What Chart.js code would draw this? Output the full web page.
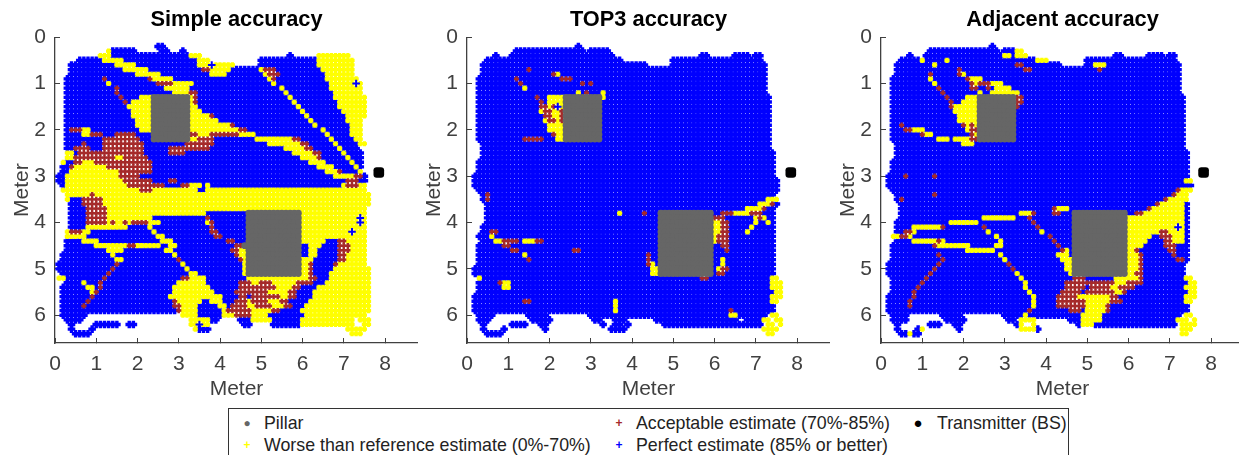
<!DOCTYPE html>
<html>
<head>
<meta charset="utf-8">
<style>
  html, body { margin: 0; padding: 0; background: #fff; overflow: hidden; width: 1239px; height: 455px; }
  canvas { position: absolute; top: 0; }
  #legend { position: absolute; left: 228px; top: 408px; width: 839px; height: 60px; border: 1px solid #333; font: 17.8px "Liberation Sans", sans-serif; color: #222; }
  #legend span { position: absolute; white-space: nowrap; line-height: 20px; }
  #legend .mark { font-weight: bold; font-size: 12px; text-align: center; width: 14px; }
</style>
</head>
<body>
<canvas id="c1" width="418" height="402" style="left:0"></canvas>
<canvas id="c2" width="418" height="402" style="left:412px"></canvas>
<canvas id="c3" width="418" height="402" style="left:826px"></canvas>
<div id="legend">
  <span class="mark" style="left:11px;top:4px;color:#666">&#9679;</span><span style="left:35px;top:4px">Pillar</span>
  <span class="mark" style="left:11px;top:26px;color:#ff0">+</span><span style="left:35px;top:26px">Worse than reference estimate (0%-70%)</span>
  <span class="mark" style="left:383px;top:4px;color:#a52a2a">+</span><span style="left:407px;top:4px">Acceptable estimate (70%-85%)</span>
  <span class="mark" style="left:383px;top:26px;color:#00f">+</span><span style="left:407px;top:26px">Perfect estimate (85% or better)</span>
  <span class="mark" style="left:682px;top:4px;color:#000;font-size:15px">&#9679;</span><span style="left:708px;top:4px">Transmitter (BS)</span>
</div>
<script src="https://cdn.jsdelivr.net/npm/chart.js@4"></script>
<script>
// rows: first number is y in tenths of a meter, then runs "class + end x in tenths"
// b perfect, y worse, r acceptable, g pillar, B perfect on top, _ nothing measured
const simpleRows = [
  '2 _25 b27',
  '3 _13 y14 b20 _26 b28 _31 b32',
  '4 _11 y14 b33 y36 _57 b58 _64 y72',
  '5 _6 b12 y17 b35 y38 _50 b64 y73',
  '6 _4 b15 y20 b35 y38 B39 y44 _50 b64 y73',
  '7 _4 b17 y23 b36 r38 y43 b50 y51 r54 b65 y73',
  '8 _4 b20 y26 b38 y42 b51 y52 r55 b66 y73',
  '9 _3 b12 r13 b23 r24 y29 b52 y53 r54 b66 y74',
  '10 _3 b13 y14 b25 r29 y34 b53 y54 b67 y73 B74 y75',
  '11 _3 b15 r16 b27 y33 b55 y56 b67 y75',
  '12 _3 b15 r16 b29 y33 r35 b56 y57 b68 y75',
  '13 _3 b16 r17 b21 y24 g33 y34 r35 b57 y58 b68 y76',
  '14 _3 b17 r18 b19 y24 g33 y34 r35 b58 y59 b69 y76',
  '15 _3 b18 y24 g33 y35 b59 y60 b69 y76',
  '16 _3 b19 y24 g33 y36 b60 y61 b70 y76',
  '17 _3 b19 y24 g33 y38 r39 b61 y62 b71 y76',
  '18 _3 b20 y24 g33 y40 b62 y63 b71 y75',
  '19 _3 b20 y24 g33 y43 r44 b63 y64 b72 y75',
  '20 _3 b4 r7 y9 b21 y24 g33 y45 r47 b65 y66 b72 y75',
  '21 _3 b7 y9 r12 b15 r20 b24 g33 r35 y38 r45 y49 b66 y67 b72 y75',
  '22 _3 b12 r21 b24 g33 y35 r39 b49 y58 r60 b67 y68 b73 y75',
  '23 _3 b7 r8 b12 r22 b32 r39 b52 y60 r62 b68 y69 b74 y76',
  '24 _3 b5 r9 b12 r22 b28 r38 b56 y61 r63 b69 y70 b74',
  '25 _3 y5 b6 r22 b28 r32 b58 y63 r65 b70 y71 b75',
  '26 _3 y5 r15 y17 r23 b60 y64 r65 b71 y72 b75',
  '27 _2 y3 b5 r7 y10 r24 b62 y66 b72 y73 b75',
  '28 _2 b4 r5 y13 r24 b64 y68 b73 y74 b75',
  '29 _2 b4 y16 r24 b66 y69 r70 b74 y75',
  '30 _1 b3 y16 r21 b68 y73 r75 b76',
  '31 _1 b3 y17 r24 b28 r30 b71 r74 b76',
  '32 _2 b3 y18 r27 b31 r33 y36 b37 y38 b70 y71 r74 y76',
  '33 _2 y21 r24 y35 b37 y76',
  '34 _3 y9 r10 y77',
  '35 _3 y4 b7 r12 y77',
  '36 _4 b7 r12 y77',
  '37 _4 b8 r13 y76',
  '38 _4 b8 r13 y37 b47 g60 y76',
  '39 _4 b8 r13 y24 b37 r38 b47 g60 y74 B75 y76',
  '40 _4 b8 r13 y14 r15 y17 r18 y19 r23 y26 b37 y38 r39 b47 g60 y74 B75 y76',
  '41 _4 b8 y18 b23 y24 b38 r39 b47 g60 y76',
  '42 _3 y4 r7 y9 b24 y25 b38 r40 b46 B47 g60 y72 B73 y76',
  '43 _3 y8 b25 y27 b39 r41 b47 g60 y76',
  '44 _3 b7 y11 b26 y29 b42 r44 b47 g60 y66 b69 r71 y76',
  '45 _3 b10 y18 r20 y26 b28 y30 b44 r46 g60 b62 y65 b69 r72 y76',
  '46 _3 b13 y17 b27 y29 b43 r45 y47 g60 b62 y64 b69 r72 y76',
  '47 _2 b14 y15 b29 y30 b44 r45 y47 g60 b62 y64 b69 r71 y76',
  '48 _2 b15 y17 b30 r31 b45 r46 y47 g60 y63 b69 r71 y76',
  '49 _1 b15 r16 b31 y32 b46 y47 g60 y62 r63 b68 r69 y76',
  '50 _1 b14 r15 b32 y33 b46 y47 g60 y62 r63 b68 y77',
  '51 _2 b13 r14 b33 y35 b46 y47 g60 y62 r63 b67 y77',
  '52 _1 y3 b12 r13 b31 r33 y37 b47 y62 r64 b67 y77',
  '53 _3 b7 y8 b11 r12 b30 y37 b45 r48 y50 r53 y59 r63 b66 y77',
  '54 _2 b8 y10 b11 r12 b29 y38 b45 r54 y58 r60 b64 y77',
  '55 _2 b9 y10 r11 b29 y39 b44 r52 y57 r59 b63 y77',
  '56 _2 b9 r10 b28 y41 b45 r47 b48 r55 y57 r59 b63 y77',
  '57 _2 b8 r9 b29 r30 y36 b38 y41 b44 r47 y48 r52 y55 r57 b62 y77',
  '58 _2 b7 r8 b29 r31 y35 b40 y42 b43 r47 y49 r53 y56 r58 b61 y77',
  '59 _2 b30 r31 y35 b41 y42 r48 y53 r55 b60 y77',
  '60 _2 b8 _31 y35 b41 y44 r48 y52 b61 y76',
  '61 _3 b7 _33 y38 b40 _45 b48 y53 b60 y73 _74 y77',
  '62 _4 b5 _10 b16 _18 b20 _33 y35 B36 y38 _46 b48 _53 b60 y73 _75 y77',
  '63 _4 b5 _9 b10 _34 y35 b38 _71 y76',
  '64 _5 b9 _72 y75'
];

const top3Rows = [
  '2 _27 b28',
  '3 _12 b29 _30 b35',
  '4 _7 b8 _11 b36 _57 b59 _65 b69 _70 b72',
  '5 _5 b38 _50 b72',
  '6 _4 b44 _50 b73',
  '7 _4 b15 r16 b73',
  '8 _4 b21 r22 y23 b73',
  '9 _3 b12 r13 b23 r26 b73',
  '10 _3 b13 r14 b28 r29 b30 r31 b73',
  '11 _3 b14 y15 b73',
  '12 _3 b16 b27 y28 b29 r30 b33 y34 b73',
  '13 _3 b17 r18 b20 y24 g33 y34 b74',
  '14 _3 b18 r19 b20 y24 g33 b74',
  '15 _3 b18 r20 y21 r22 B23 y24 g33 b74',
  '16 _3 b18 y19 r21 y23 r24 g33 b74',
  '17 _3 b19 r21 y23 r24 g33 b74',
  '18 _3 b19 y20 r22 y23 r24 g33 b74',
  '19 _3 b20 y24 g33 b74',
  '20 _3 b20 y24 g33 b74',
  '21 _3 b21 r22 y24 g33 b74',
  '22 _3 b14 r19 b22 y24 g33 b74',
  '23 _4 b74',
  '24 _4 b74',
  '25 _4 b75',
  '26 _4 b75',
  '27 _3 b75',
  '28 _3 b75',
  '29 _3 b75',
  '30 _2 b75',
  '31 _2 b76',
  '32 _2 b76',
  '33 _3 b76',
  '34 _4 b5 r6 b75',
  '35 _4 b5 r6 b73 y76',
  '36 _5 b71 y74 r75 b76',
  '37 _5 b68 y72 r73 b75',
  '38 _5 b37 y38 b43 r44 b47 g60 b62 r65 y69 r72 b75',
  '39 _5 b47 g60 r63 b70 y71 r72 y73 b75',
  '40 _5 b47 g60 y62 r64 b70 y71 b73 y74 b75',
  '41 _4 b47 g60 y62 r64 b69 y70 b75',
  '42 _4 b6 r8 b47 g60 y62 r64 b68 y69 b75',
  '43 _3 b6 y7 b47 g60 y61 r64 b75',
  '44 _4 b7 y9 r13 b14 y17 r19 b47 g60 y61 r64 b75',
  '45 _3 b9 r11 b47 g60 b62 r64 b75',
  '46 _3 b11 r13 b26 r28 b47 g60 b63 r64 b75',
  '47 _3 b14 y15 b44 r45 b47 g60 b75',
  '48 _3 b15 r16 b44 r45 b47 g60 b62 y63 b75',
  '49 _3 b44 r45 y46 b47 g60 b62 y63 b75',
  '50 _2 b45 y47 g60 b61 y62 r64 b75',
  '51 _2 b45 y47 g60 b61 r63 b75',
  '52 _3 y4 b57 r59 b74 y76',
  '53 _3 b8 r9 y11 b74 y77',
  '54 _3 b9 y11 b74 y77',
  '55 _3 b75 y77',
  '56 _2 b74 y77',
  '57 _2 b14 r16 b36 y37 b74 y76',
  '58 _2 b36 y37 b75',
  '59 _2 b36 y37 b64 r65 b75',
  '60 _3 b7 _15 b20 _30 b64 y66 b73 _74 y76',
  '61 _3 b6 _16 b21 _31 b33 _36 b39 _46 b66 _68 b72 y74 _75 y77',
  '62 _4 b5 _11 b15 _18 b20 _33 b34 _36 b38 _39 b40 _48 b72 _73 y75 _76 y77',
  '63 _4 b5 _9 b10 _19 b20 _35 b39 _72 y76',
  '64 _5 b9 _73 y75'
];

const adjacentRows = [
  '2 _27 b28',
  '3 _12 b29 _30 b33 y35',
  '4 _7 b8 _11 b30 y32 b33 y36 _57 b59 _65 b69 _70 b72',
  '5 _5 b10 y11 b16 y17 b38 y41 _50 b72',
  '6 _4 b13 y14 b33 r35 b44 _50 b52 y55 b73',
  '7 _4 b19 r20 b35 r37 b53 r54 b73',
  '8 _4 b12 r13 b19 r20 y21 b73',
  '9 _3 b12 y13 b21 r22 y25 b73',
  '10 _3 b13 y14 b22 r23 y24 r27 y30 b73',
  '11 _3 b14 r15 b22 r24 b26 r27 b28 y32 b73',
  '12 _3 b15 r16 b24 y25 b27 y34 b73',
  '13 _3 b16 r17 b21 y24 g33 r35 b74',
  '14 _3 b17 r18 b20 y24 g33 r35 b74',
  '15 _3 b17 r18 y24 g33 r34 b74',
  '16 _3 b18 y24 g33 b74',
  '17 _3 b19 y24 g33 b74',
  '18 _3 b19 y24 g33 b74',
  '19 _3 b5 r6 b20 r21 y22 r23 y24 g33 b74',
  '20 _3 b6 r8 y11 b21 y22 r24 g33 b74',
  '21 _3 b10 r11 y13 b22 r23 y24 g33 b74',
  '22 _3 b14 y17 b18 y22 r24 g33 b74',
  '23 _4 b20 y23 b74',
  '24 _4 b74',
  '25 _4 b75',
  '26 _4 b75',
  '27 _3 b75',
  '28 _3 b75',
  '29 _3 b75',
  '30 _2 b6 r7 b13 r14 b75',
  '31 _2 b74 y76',
  '32 _2 b76',
  '33 _3 b72 r73 y76',
  '34 _4 b13 r14 b71 r72 y75',
  '35 _4 b5 r6 b69 r70 y75',
  '36 _5 b67 r68 y74 b75',
  '37 _5 b42 r43 y46 b65 r66 y74 b75',
  '38 _5 b34 y37 r38 b42 r44 b47 g60 b62 r64 y74 b75',
  '39 _5 b25 y33 b36 r37 b47 g60 y74 b75',
  '40 _4 b17 y24 b37 r38 b47 g60 y74 b75',
  '41 _4 b8 y15 r16 b25 r26 b38 r39 b47 g60 y72 B73 y74 b75',
  '42 _4 b6 r8 y9 b26 y27 b39 y40 b47 g60 y68 r70 y74 b75',
  '43 _3 y5 r7 y8 b28 y29 b41 r42 b47 g60 y66 b68 r71 y74 b75',
  '44 _4 b8 y14 r15 y16 b29 y30 b42 r43 b47 g60 y65 b69 r71 y74 b75',
  '45 _3 b13 r14 y22 b28 y30 b43 r44 b47 g60 y64 b69 r72 b75',
  '46 _3 b21 y28 b44 r45 y46 b47 g60 y62 r63 b70 r72 b75',
  '47 _3 b14 r15 b29 y30 b43 y46 b47 g60 y63 r64 b71 r72 b75',
  '48 _3 b15 r16 b30 y31 b44 y47 g60 y63 r64 b72 r74 b75',
  '49 _2 b14 r15 b31 r32 b45 y47 g60 y63 r64 b74',
  '50 _2 b13 r14 b32 r33 b45 y47 g60 y63 r64 b74',
  '51 _2 b12 r13 b33 y34 b46 y47 g60 y62 r64 b74',
  '52 _3 b11 r12 b34 y35 b47 r50 b57 y63 r64 b74 y76',
  '53 _3 b10 r11 b35 y36 b45 r57 y60 r64 b75 y77',
  '54 _3 b9 r10 b35 y36 b45 r50 b51 r56 y58 r62 b74 y77',
  '55 _3 b8 r9 b36 y37 b44 r49 b50 r57 y59 r60 b75 y77',
  '56 _2 b8 r9 b37 y38 b43 r48 y56 r58 b74 y77',
  '57 _2 b7 r8 b37 y38 b43 r50 y56 r59 b74 y76',
  '58 _2 b7 r8 b37 y38 b43 r50 y55 r56 b75',
  '59 _2 b36 r37 b46 r49 b50 y55 r56 b75',
  '60 _3 b7 _15 b20 _30 b35 y36 b49 y54 b73 _74 y76',
  '61 _3 b7 _16 b21 _31 b33 _34 y38 _46 b49 y54 b72 y75 _76 y77',
  '62 _4 b5 _12 b15 _18 b20 _33 b34 _34 y35 _37 y38 _48 b49 y52 b72 _73 y77',
  '63 _4 b5 _9 b10 y11 _19 b20 _34 y38 b39 _73 y76',
  '64 _5 b7 y8 b10 _73 y75'
];

const panelTitles = ['Simple accuracy', 'TOP3 accuracy', 'Adjacent accuracy'];
const transmitterX = [7.85, 7.85, 7.82];
const transmitterY = [2.92, 2.92, 2.92];

function decodeRows(rows) {
    const groups = { b: [], y: [], r: [], g: [], B: [], _: [] };
    rows.forEach(row => {
        const parts = row.split(' ');
        const y = Number(parts[0]) / 10;
        let start = 0;
        parts.slice(1).forEach(run => {
            const end = Number(run.slice(1));
            for (let k = start; k < end; k++) {
                groups[run[0]].push({ x: k / 10, y });
            }
            start = end;
        });
    });
    return groups;
}

// chart.js draws lower order values on top
function crossSet(data, color, radius, width, order) {
    return { type: 'scatter', data, order, pointStyle: 'cross', pointRadius: radius, pointBorderColor: color, pointBorderWidth: width, pointBackgroundColor: color };
}

function noMargins(s) {
    s.paddingLeft = s.paddingRight = s.paddingTop = s.paddingBottom = 0;
}

function makePanel(id, rows, title, txX, txY) {
    const g = decodeRows(rows);
    const axisFont = { family: 'Liberation Sans', size: 21 };
    new Chart(document.getElementById(id), {
        type: 'scatter',
        data: {
            datasets: [
                crossSet(g.b, '#0000ff', 3.8, 3.4, 6),
                crossSet(g.y, '#ffff00', 2.6, 3.2, 5),
                crossSet(g.r, '#a52a2a', 2.6, 2.4, 4),
                crossSet(g.B, '#0000ff', 3.8, 2, 3),
                { data: g.g, order: 2, pointStyle: 'circle', pointRadius: 3.4, pointBorderWidth: 0, pointBackgroundColor: '#666666' },
                { data: [{ x: txX, y: txY }], order: 1, pointStyle: 'rectRounded', pointRadius: 6.2, pointBorderWidth: 0, pointBackgroundColor: '#000000' }
            ]
        },
        options: {
            responsive: false,
            animation: false,
            events: [],
            clip: false,
            layout: { padding: 0, autoPadding: false },
            plugins: {
                legend: { display: false },
                tooltip: { enabled: false },
                title: { display: true, fullSize: false, text: title, color: '#000', font: { family: 'Liberation Sans', size: 21.8, weight: 'bold' }, padding: { top: 7, bottom: 4 } }
            },
            scales: {
                x: {
                    type: 'linear', min: 0, max: 8.8,
                    afterFit: s => { s.height = 59; noMargins(s); },
                    border: { color: '#404040', width: 1.3 },
                    grid: { drawOnChartArea: false, tickLength: -5, color: '#404040' },
                    ticks: { stepSize: 1, includeBounds: false, color: '#404040', font: axisFont, padding: 14, maxRotation: 0 },
                    title: { display: true, text: 'Meter', color: '#404040', font: axisFont, padding: { top: 0, bottom: 0 } }
                },
                y: {
                    type: 'linear', min: 0, max: 6.6, reverse: true,
                    afterFit: s => { s.width = 55; noMargins(s); },
                    border: { color: '#404040', width: 1.3 },
                    grid: { drawOnChartArea: false, tickLength: -5, color: '#404040' },
                    ticks: { stepSize: 1, includeBounds: false, color: '#404040', font: axisFont, padding: 14 },
                    title: { display: true, text: 'Meter', color: '#404040', font: axisFont, padding: { top: 10, bottom: 0 } }
                }
            }
        }
    });
}

makePanel('c1', simpleRows, panelTitles[0], transmitterX[0], transmitterY[0]);
makePanel('c2', top3Rows, panelTitles[1], transmitterX[1], transmitterY[1]);
makePanel('c3', adjacentRows, panelTitles[2], transmitterX[2], transmitterY[2]);
</script>
</body>
</html>
